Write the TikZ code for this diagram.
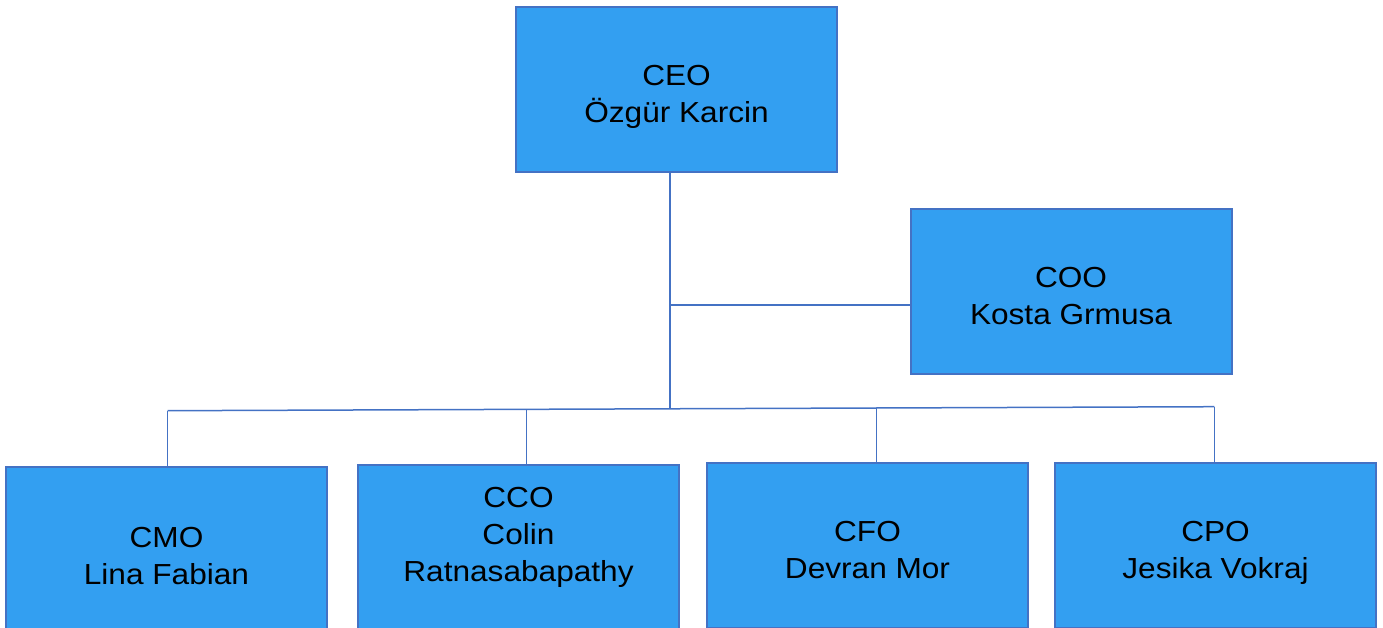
\documentclass[tikz,border=0pt]{standalone}
\usepackage{fontspec}
\setmainfont[FakeStretch=1.09]{Liberation Sans}
\usetikzlibrary{calc}
\definecolor{boxfill}{RGB}{51,159,241}
\definecolor{boxline}{RGB}{68,114,196}
\begin{document}
\begin{tikzpicture}[x=1pt,y=-1pt,
  orgbox/.style={draw=boxline, line width=2pt, fill=boxfill, minimum width=321pt,
    minimum height=165pt, inner sep=0pt, align=center,
    text height=72pt, text depth=6pt,
    font=\fontsize{29}{37}\selectfont, text=black},
  conn/.style={draw=boxline, line width=1.5pt}]
\useasboundingbox (0,0) rectangle (1383,627);
\clip (0,0) rectangle (1383,627);
\node[orgbox] (ceo) at (676.5,89.5) {CEO\\Özgür Karcin};
\node[orgbox] (coo) at (1071,291.5) {COO\\Kosta Grmusa};
\node[orgbox, text height=76pt] (cmo) at (166.5,549.5) {CMO\\Lina Fabian};
\node[orgbox, text height=74pt] (cco) at (518.5,547.5) {CCO\\Colin\\Ratnasabapathy};
\node[orgbox] (cfo) at (867.5,545.5) {CFO\\Devran Mor};
\node[orgbox] (cpo) at (1215.5,545.5) {CPO\\Jesika Vokraj};
\coordinate (j0) at (670,409);
\coordinate (j1) at (670,305);
\coordinate (b1) at (167.7,410.7);
\coordinate (b2) at (526.3,409.7);
\coordinate (b3) at (876.3,408);
\coordinate (b4) at (1214.3,406.7);
\draw[conn] (ceo.south -| j0) -- (j0);
\draw[conn] (j1) -- (coo.west |- j1);
\draw[conn] (b1) -- (b4);
\draw[conn] (b1) -- (b1 |- cmo.north);
\draw[conn] (b2) -- (b2 |- cco.north);
\draw[conn] (b3) -- (b3 |- cfo.north);
\draw[conn] (b4) -- (b4 |- cpo.north);
\end{tikzpicture}
\end{document}
